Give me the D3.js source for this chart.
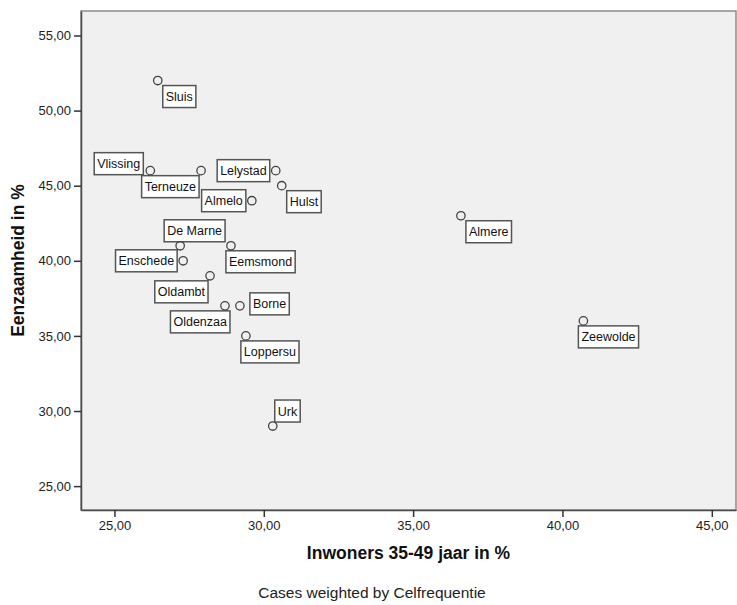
<!DOCTYPE html>
<html><head><meta charset="utf-8">
<script src="https://cdn.jsdelivr.net/npm/d3@7"></script>
<style>body{margin:0;background:#fff}svg{display:block}text{font-family:"Liberation Sans",Arial,sans-serif}</style>
</head><body><svg id="c" width="737" height="605"></svg>
<script>
const names = ["Sluis","Vlissing","Terneuze","Lelystad","Hulst","Almelo","Almere","De Marne","Eemsmond","Enschede","Oldambt","Oldenzaa","Borne","Loppersu","Zeewolde","Urk"];
const inwoners = [26.45,26.2,27.9,30.4,30.6,29.6,36.6,27.2,28.9,27.3,28.2,28.7,29.2,29.4,40.7,30.3];
const eenzaamheid = [52,46,46,46,45,44,43,41,41,40,39,37,37,35,36,29];
const labelSide = ["se","nw","sw","w","se","w","se","n","s","w","sw","ssw","e","s","s","ne"];
const xTicks = [25,30,35,40,45];
const yTicks = [25,30,35,40,45,50,55];
const xTitle = "Inwoners 35-49 jaar in %";
const yTitle = "Eenzaamheid in %";
const footnote = "Cases weighted by Celfrequentie";

const svg = d3.select("#c");
const L=81, R=736, T=11, B=510;
const x = d3.scaleLinear().domain([23.88,45.81]).range([L,R]);
const y = d3.scaleLinear().domain([23.41,56.63]).range([B,T]);
const fmt = v => d3.format(".2f")(v).replace(".",",");

svg.append("rect").attr("x",L).attr("y",T).attr("width",R-L).attr("height",B-T)
  .attr("fill","#f0f0f0").attr("stroke","#8c8c8c").attr("stroke-width",1.5);

const gx = svg.append("g").attr("transform",`translate(0,${B})`)
  .call(d3.axisBottom(x).tickValues(xTicks).tickFormat(fmt).tickSize(7).tickSizeOuter(0).tickPadding(4));
const gy = svg.append("g").attr("transform",`translate(${L},0)`)
  .call(d3.axisLeft(y).tickValues(yTicks).tickFormat(fmt).tickSize(7).tickSizeOuter(0).tickPadding(3));
[gx,gy].forEach(g=>{
  g.select(".domain").attr("stroke","#4a4a4a").attr("stroke-width",1.5);
  g.selectAll(".tick line").attr("stroke","#333").attr("stroke-width",1.5);
  g.selectAll(".tick text").attr("fill","#222").style("font-size","13px").style("font-family","'Liberation Sans',Arial,sans-serif");
});

svg.append("text").attr("x",(L+R)/2).attr("y",559).attr("text-anchor","middle")
  .style("font-weight","bold").style("font-size","17.5px").attr("fill","#111").text(xTitle);
svg.append("text").attr("transform",`translate(24,${(T+B)/2}) rotate(-90)`).attr("text-anchor","middle")
  .style("font-weight","bold").style("font-size","17.5px").attr("fill","#111").text(yTitle);
svg.append("text").attr("x",372).attr("y",598).attr("text-anchor","middle")
  .style("font-size","15.5px").attr("fill","#222").text(footnote);

const offs = {
  se:(w,h)=>[5,5], nw:(w,h)=>[-7-w,4-h], sw:(w,h)=>[-2-w,5], ssw:(w,h)=>[5-w,5],
  w:(w,h)=>[-6-w,-h/2], e:(w,h)=>[10,-h/2-2], n:(w,h)=>[-16,-4-h], ne:(w,h)=>[2,-4-h], s:(w,h)=>[-5,5]
};
const data = names.map((n,i)=>({n, x:inwoners[i], y:eenzaamheid[i], side:labelSide[i]}));
const lg = svg.append("g");
data.forEach(d=>{
  const px=x(d.x), py=y(d.y);
  const g = lg.append("g");
  const rect = g.append("rect");
  const t = g.append("text").style("font-size","12.5px").attr("fill","#111").text(d.n);
  const tw = t.node().getComputedTextLength();
  const pad=3, h=22, w=tw+2*pad;
  const [dx,dy] = offs[d.side](w,h);
  rect.attr("x",px+dx).attr("y",py+dy).attr("width",w).attr("height",h)
    .attr("fill","#fff").attr("stroke","#555").attr("stroke-width",1.5);
  t.attr("x",px+dx+pad).attr("y",py+dy+h/2+4.5);
});
svg.append("g").selectAll("circle").data(data).join("circle")
  .attr("cx",d=>x(d.x)).attr("cy",d=>y(d.y)).attr("r",4.2)
  .attr("fill","none").attr("stroke","#444").attr("stroke-width",1.3);
</script></body></html>
